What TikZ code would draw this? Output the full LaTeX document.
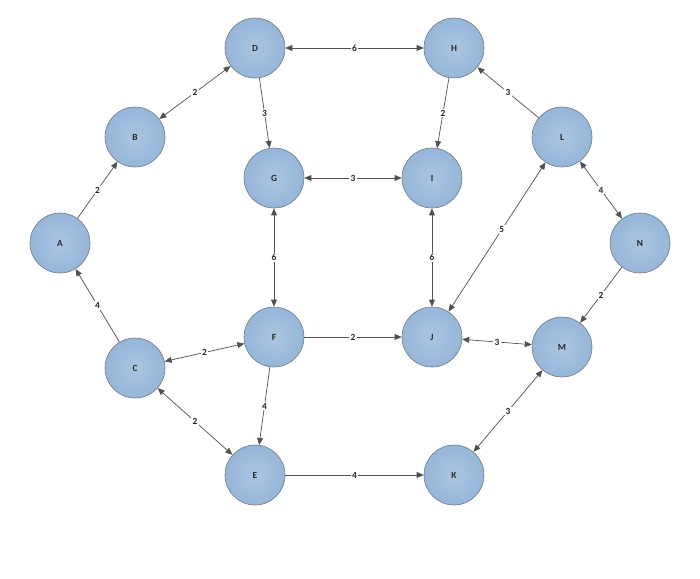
\documentclass[tikz,border=0pt]{standalone}
\usepackage{fontspec}
\setmainfont{Carlito}
\usetikzlibrary{arrows.meta}
\definecolor{nfill}{RGB}{150,182,217}
\definecolor{nline}{RGB}{110,120,135}
\definecolor{eline}{RGB}{80,80,80}
\begin{document}
\begin{tikzpicture}[x=0.03cm,y=-0.03cm,
  vtx/.style={circle,draw=nline,line width=0.5pt,inner color=nfill!80!white,outer color=nfill,minimum size=1.8cm,font=\bfseries\fontsize{8}{9}\selectfont,text=black!85},
  edge/.style={draw=eline,line width=0.6pt,-{Triangle[length=6pt,width=5pt]}},
  bedge/.style={edge,{Triangle[length=6pt,width=5pt]}-{Triangle[length=6pt,width=5pt]}},
  lbl/.style={fill=white,inner sep=1pt,font=\bfseries\fontsize{8}{9}\selectfont,text=black!85,midway}]
\useasboundingbox (0,0) rectangle (700,578);
\node[vtx] (D) at (255,48) {D};
\node[vtx] (H) at (454,48) {H};
\node[vtx] (B) at (135,137) {B};
\node[vtx] (L) at (562,137) {L};
\node[vtx] (G) at (274,178) {G};
\node[vtx] (I) at (432,178) {I};
\node[vtx] (A) at (60,243) {A};
\node[vtx] (N) at (640,243) {N};
\node[vtx] (F) at (274,337) {F};
\node[vtx] (J) at (432,337) {J};
\node[vtx] (M) at (562,347) {M};
\node[vtx] (C) at (135,368) {C};
\node[vtx] (E) at (255,475) {E};
\node[vtx] (K) at (454,475) {K};
\path[bedge] (D) -- node[lbl]{6} (H);
\path[bedge] (B) -- node[lbl]{2} (D);
\path[edge] (D) -- node[lbl]{3} (G);
\path[edge] (H) -- node[lbl]{2} (I);
\path[edge] (L) -- node[lbl]{3} (H);
\path[bedge] (G) -- node[lbl]{3} (I);
\path[bedge] (L) -- node[lbl]{4} (N);
\path[edge] (A) -- node[lbl]{2} (B);
\path[edge] (C) -- node[lbl]{4} (A);
\path[bedge] (G) -- node[lbl]{6} (F);
\path[bedge] (I) -- node[lbl]{6} (J);
\path[bedge] (J) -- node[lbl,pos=0.55]{5} (L);
\path[edge] (N) -- node[lbl]{2} (M);
\path[edge] (F) -- node[lbl]{2} (J);
\path[bedge] (J) -- node[lbl]{3} (M);
\path[bedge] (C) -- node[lbl]{2} (F);
\path[edge] (F) -- node[lbl]{4} (E);
\path[bedge] (C) -- node[lbl]{2} (E);
\path[edge] (E) -- node[lbl]{4} (K);
\path[bedge] (K) -- node[lbl]{3} (M);
\end{tikzpicture}
\end{document}
